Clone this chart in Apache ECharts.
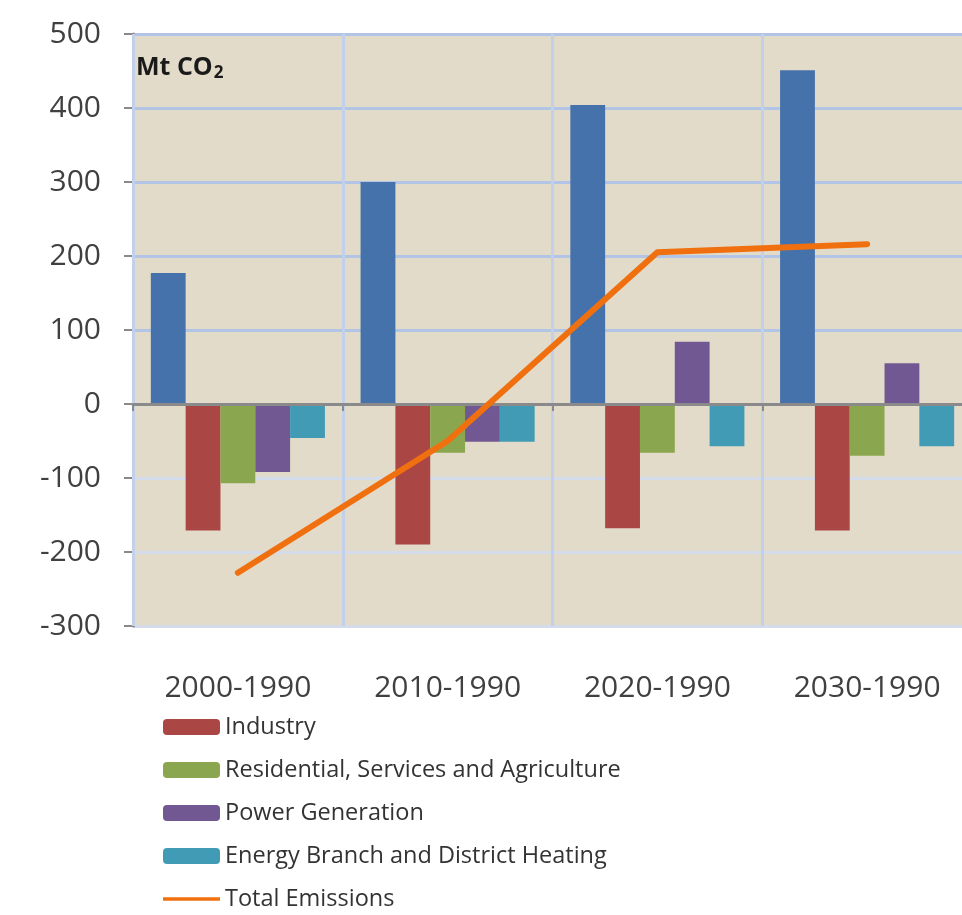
<!DOCTYPE html>
<html>
<head>
<meta charset="utf-8">
<script src="https://cdn.jsdelivr.net/npm/echarts@6/dist/echarts.min.js"></script>
<style>
html,body{margin:0;padding:0;background:#fff;overflow:hidden;}
#chart{width:1000px;height:960px;}
</style>
</head>
<body>
<div id="chart"></div>
<script>
const categories = ['2000-1990', '2010-1990', '2020-1990', '2030-1990'];
const transport = [177, 300, 404, 451];
const industry = [-171, -190, -168, -171];
const residential = [-107, -66, -66, -70];
const power = [-92, -51, 84, 55];
const energyBranch = [-46, -51, -57, -57];
const totalEmissions = [-228, -50, 205, 216];
const yTicks = { min: -300, max: 500, interval: 100 };

const chart = echarts.init(document.getElementById('chart'));
const font = 'Open Sans';
const barBase = { type: 'bar', xAxisIndex: 0, barGap: '0%', barCategoryGap: '17%', z: 2 };
const option = {
  animation: false,
  backgroundColor: '#ffffff',
  grid: { left: 133, top: 34, width: 839, height: 592, show: true, backgroundColor: '#E3DBC9', borderWidth: 0 },
  graphic: [{
    type: 'text', left: 136, top: 55, z: 10,
    style: {
      text: '{a|Mt CO}{s|2}',
      rich: {
        a: { fontFamily: font, fontWeight: 'bold', fontSize: 25, fill: '#1a1a1a' },
        s: { fontFamily: font, fontWeight: 'bold', fontSize: 17, fill: '#1a1a1a', padding: [12, 0, 0, 1] }
      }
    }
  }],
  legend: {
    orient: 'vertical', left: 163, top: 715, padding: 0, itemWidth: 57, itemHeight: 16, itemGap: 19,
    textStyle: { fontFamily: font, fontSize: 23.5, color: '#333', lineHeight: 24 },
    data: ['Industry', 'Residential, Services and Agriculture', 'Power Generation', 'Energy Branch and District Heating',
      { name: 'Total Emissions', icon: 'path://M0,0 L57,0 L57,3.5 L0,3.5 Z' }]
  },
  xAxis: [{
    type: 'category', data: categories, position: 'bottom',
    axisLine: { show: false, onZero: false }, axisTick: { show: false },
    axisLabel: { fontFamily: font, fontSize: 30, color: '#404040', margin: 47 },
    splitLine: { show: false }
  }, {
    type: 'category', data: categories, position: 'bottom', z: 3,
    axisLine: { show: true, onZero: true, lineStyle: { color: '#8A8A8A', width: 3 } },
    axisTick: { show: true, length: 7, lineStyle: { color: '#8A8A8A', width: 2 } },
    axisLabel: { show: false },
    splitLine: { show: true, lineStyle: { color: '#C3D0EA', width: 3 } }
  }],
  yAxis: {
    type: 'value', min: yTicks.min, max: yTicks.max, interval: yTicks.interval,
    axisLine: { show: true, lineStyle: { color: '#8A8A8A', width: 3 } },
    axisTick: { show: true, length: 9, lineStyle: { color: '#8A8A8A', width: 2 } },
    axisLabel: { fontFamily: font, fontSize: 30, color: '#404040', margin: 32 },
    splitLine: { show: true, lineStyle: { width: 3, color: ['#D4DBEA', '#D4DBEA', '#D4DBEA', '#8A8A8A', '#B3C5E6', '#B3C5E6', '#B3C5E6', '#B3C5E6', '#B3C5E6'] } }
  },
  series: [
    Object.assign({}, barBase, { name: 'Transport', data: transport, itemStyle: { color: '#4572AA' } }),
    Object.assign({}, barBase, { name: 'Industry', data: industry, itemStyle: { color: '#AA4644' } }),
    Object.assign({}, barBase, { name: 'Residential, Services and Agriculture', data: residential, itemStyle: { color: '#8AA74F' } }),
    Object.assign({}, barBase, { name: 'Power Generation', data: power, itemStyle: { color: '#725892' } }),
    Object.assign({}, barBase, { name: 'Energy Branch and District Heating', data: energyBranch, itemStyle: { color: '#429BB5' } }),
    { name: 'Total Emissions', type: 'line', xAxisIndex: 0, data: totalEmissions, z: 5, symbol: 'none', showSymbol: false,
      lineStyle: { color: '#F07010', width: 6, cap: 'round', join: 'round' }, itemStyle: { color: '#F07010' } }
  ]
};
chart.setOption(option);
</script>
</body>
</html>
